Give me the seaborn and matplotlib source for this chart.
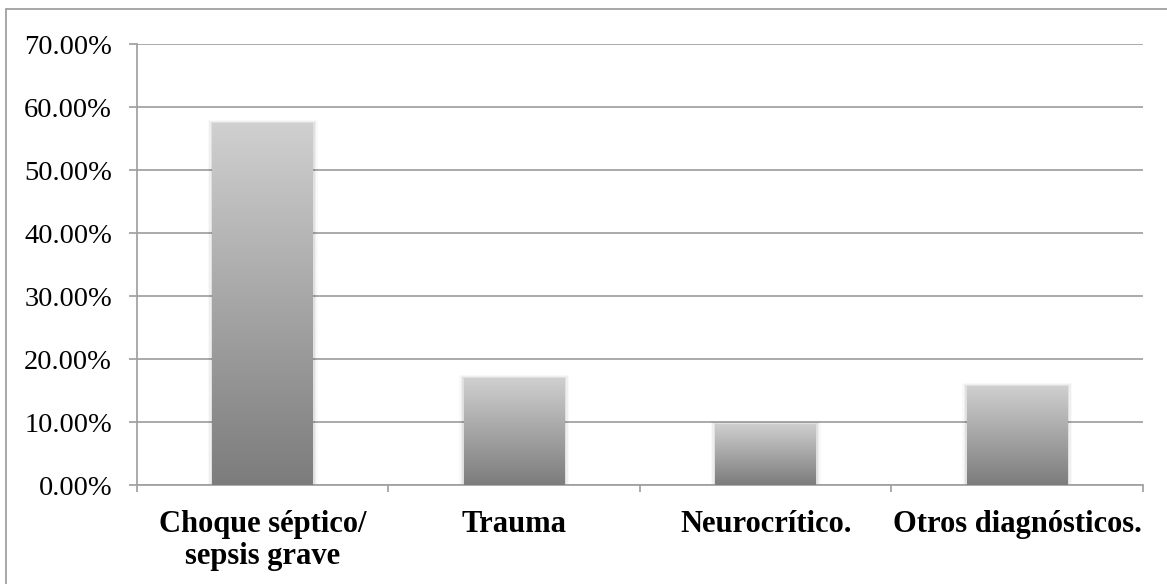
import numpy as np
import pandas as pd
import matplotlib
matplotlib.use("Agg")
import matplotlib.pyplot as plt
from matplotlib.colors import LinearSegmentedColormap
from matplotlib.ticker import FuncFormatter, FixedLocator
import seaborn as sns

# Diagnosis categories and their share of cases (%)
categories = ["Choque séptico/\nsepsis grave", "Trauma", "Neurocrítico.", "Otros diagnósticos."]
percentages = [57.5, 17.0, 9.8, 15.8]
y_ticks = [0, 10, 20, 30, 40, 50, 60, 70]

sns.set_theme(style="white")
plt.rcParams["font.family"] = ["Liberation Serif", "DejaVu Serif"]

grid_color = "#a0a0a0"

fig = plt.figure(figsize=(11.67, 5.84), dpi=100)
ax = fig.add_axes([0.1174, 0.169, 0.862, 0.7551])

df = pd.DataFrame({"categoria": categories, "porcentaje": percentages})
sns.barplot(data=df, x="categoria", y="porcentaje", width=0.4,
            color="#aaaaaa", edgecolor="none", ax=ax, zorder=3)

ax.set_ylim(0, 70)
ax.set_xlim(-0.5, len(categories) - 0.5)
ax.yaxis.set_major_locator(FixedLocator(y_ticks))
ax.yaxis.set_major_formatter(FuncFormatter(lambda v, _: f"{v:.2f}%"))
ax.grid(axis="y", color=grid_color, linewidth=1.25, zorder=0)
ax.set_axisbelow(True)
ax.set_xlabel("")
ax.set_ylabel("")

for side in ("top", "right"):
    ax.spines[side].set_visible(False)
for side in ("left", "bottom"):
    ax.spines[side].set_color(grid_color)
    ax.spines[side].set_linewidth(1.25)

ax.tick_params(axis="y", which="major", left=True, length=6, width=1.25,
               color=grid_color, pad=12, labelsize=20.5, labelcolor="black")
ax.tick_params(axis="x", which="major", bottom=False, length=0, pad=18,
               labelsize=22, labelcolor="black")
ax.set_xticks(np.arange(-0.5, len(categories)), minor=True)
ax.tick_params(axis="x", which="minor", bottom=True, length=5, width=1.25,
               color=grid_color)
for lbl in ax.get_xticklabels():
    lbl.set_fontweight("bold")
    lbl.set_linespacing(1.12)

# Vertical grey gradient inside each bar (light top, dark bottom)
cmap = LinearSegmentedColormap.from_list("bar_grad", ["#7c7c7c", "#d0d0d0"])
grad = np.linspace(0, 1, 256).reshape(-1, 1)
for patch in ax.patches:
    x0, y0 = patch.get_x(), patch.get_y()
    w, h = patch.get_width(), patch.get_height()
    # soft shadow
    for i, a in enumerate([0.06, 0.04, 0.025]):
        d = 0.006 * (i + 1)
        sh = plt.Rectangle((x0 - d, y0), w + 2 * d, h + d * 25,
                           color="black", alpha=a, lw=0, zorder=2)
        ax.add_patch(sh)
    im = ax.imshow(grad, cmap=cmap, aspect="auto", origin="lower",
                   extent=[x0, x0 + w, y0, y0 + h], zorder=4)
    im.set_clip_path(patch)

ax.set_xlim(-0.5, len(categories) - 0.5)
ax.set_ylim(0, 70)

# Outer chart frame
fig.add_artist(plt.Line2D([0.0051, 0.0051], [0, 0.9854], color=grid_color,
                          lw=1.3, transform=fig.transFigure))
fig.add_artist(plt.Line2D([0.0051, 1.0], [0.9854, 0.9854], color=grid_color,
                          lw=1.3, transform=fig.transFigure))

fig.savefig("out.png", dpi=100, facecolor="white")
